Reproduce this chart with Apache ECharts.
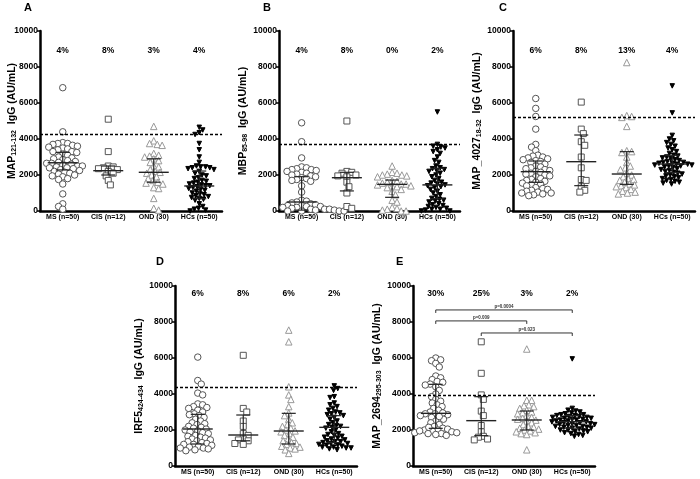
<!DOCTYPE html>
<html><head><meta charset="utf-8">
<script src="https://cdn.jsdelivr.net/npm/echarts@6/dist/echarts.min.js"></script>
<style>html,body{margin:0;padding:0;background:#fff}#c{width:700px;height:479px}</style>
</head><body><div id="c"></div>
<script>
const groups = ['MS (n=50)','CIS (n=12)','OND (30)','HCs (n=50)'];
const yTicks = [0,2000,4000,6000,8000,10000];

// Panel A  MAP121-132
const aMS = [6850,4400,3800,3750,3750,3700,3650,3600,3550,3500,3450,3400,3300,3300,3250,3150,3100,3000,2950,2900,2850,2800,2750,2700,2650,2650,2600,2550,2500,2500,2450,2400,2400,2350,2300,2250,2200,2150,2100,2050,2000,1950,1900,1800,1750,1500,950,400,250,100];
const aCIS = [5100,3300,2500,2450,2400,2350,2300,2200,2100,1950,1700,1450];
const aOND = [4700,3900,3750,3700,3650,3200,3100,3050,3000,2900,2800,2700,2500,2450,2300,2200,2150,2100,2000,1900,1800,1700,1600,1550,1500,1300,1250,700,150,50];
const aHC = [4650,4500,4350,4250,3750,3400,3000,2700,2500,2450,2450,2400,2400,2350,2300,2200,2100,2000,1950,1850,1800,1700,1650,1600,1550,1500,1450,1400,1400,1350,1300,1250,1200,1150,1100,1000,950,900,850,800,750,700,650,600,400,250,150,100,50,0];
const pctA = ['4%','8%','3%','4%'];
const medA = [2680,2240,2150,1390], q1A = [2280,2000,1600,680], q3A = [3260,2500,2900,2220];
const cutA = 4260;

// Panel B  MBP85-98
const bMS = [4900,3850,2950,2450,2400,2350,2300,2300,2250,2200,2150,2100,2050,2000,1950,1900,1850,1800,1750,1700,1650,1400,1050,600,550,500,450,400,350,300,300,250,250,200,200,150,150,100,100,100,50,50,50,0,0,0,0,0,0,0];
const bCIS = [5000,2200,2150,2100,2000,1950,1900,1600,1350,1000,250,150];
const bOND = [2500,2150,2100,2050,2000,2000,1950,1900,1700,1650,1600,1550,1500,1500,1450,1400,1400,1350,1300,1200,1100,900,600,500,200,150,100,50,0,0];
const bHC = [5500,3700,3600,3550,3500,3400,3300,3200,3000,2800,2700,2500,2400,2350,2300,2250,2200,2100,2000,1900,1800,1700,1600,1550,1500,1450,1400,1350,1300,1200,1100,1000,900,800,700,650,600,550,500,400,350,300,250,200,150,100,100,50,0,0];
const pctB = ['4%','8%','0%','2%'];
const medB = [500,1850,1480,1450], q1B = [50,1115,760,680], q3B = [1906,2150,1720,2370];
const cutB = 3720;

// Panel C  MAP_4027 18-32
const cMS = [6250,5700,5250,4550,3700,3550,3350,3100,3050,3000,2950,2900,2850,2800,2750,2700,2600,2500,2450,2400,2350,2300,2250,2200,2150,2100,2050,2000,1950,1900,1800,1750,1700,1650,1600,1550,1500,1450,1400,1300,1250,1200,1150,1100,1050,1000,950,900,850,1000];
const cCIS = [6050,4550,4300,3850,3650,3000,2400,1750,1700,1350,1150,1050];
const cOND = [8250,5300,5250,5200,4700,3350,3300,3250,3000,2700,2500,2400,2300,2100,2000,1900,1800,1750,1700,1600,1500,1450,1400,1350,1300,1200,1100,1050,1000,950];
const cHC = [6950,5450,4200,4000,3900,3800,3700,3600,3500,3400,3300,3200,3100,3050,3000,2950,2900,2850,2800,2750,2700,2700,2650,2650,2600,2600,2550,2550,2500,2500,2450,2400,2350,2300,2250,2200,2150,2100,2050,2000,1950,1900,1850,1800,1750,1700,1650,1600,1550,1500];
const pctC = ['6%','8%','13%','4%'];
const medC = [2185,2740,2055,2611], q1C = [1593,1407,1481,2130], q3C = [2778,4222,3296,3093];
const cutC = 5205;

// Panel D  IRF5 424-434
const dMS = [6050,4750,4550,4050,3950,3450,3400,3300,3250,3200,3100,3000,2900,2850,2800,2700,2600,2500,2400,2350,2300,2200,2150,2100,2050,2000,1950,1900,1850,1800,1700,1650,1600,1550,1500,1450,1400,1350,1300,1250,1200,1150,1100,1050,1000,950,900,850,1200,1000];
const dCIS = [6150,3200,3000,2500,2200,1800,1700,1500,1450,1400,1250,1200];
const dOND = [7550,6900,4400,3950,3700,3300,2950,2800,2600,2400,2300,2200,2100,2000,1950,1900,1800,1700,1600,1500,1400,1300,1250,1200,1100,1050,1000,950,900,700];
const dHC = [4450,4300,4200,3850,3800,3500,3400,3300,3200,3100,3000,2950,2900,2850,2800,2700,2600,2500,2400,2300,2250,2200,2150,2100,2000,1900,1800,1750,1700,1650,1600,1550,1500,1450,1400,1350,1300,1250,1200,1150,1100,1050,1000,950,900,1350,1250,1150,1050,1000];
const pctD = ['6%','8%','6%','2%'];
const medD = [2056,1722,1944,2148], q1D = [1222,1400,1222,1300], q3D = [2870,2833,2926,2796];
const cutD = 4372;

// Panel E  MAP_2694 295-303
const eMS = [6000,5900,5850,5700,5500,5000,4900,4800,4700,4650,4550,4500,4400,4200,4000,3850,3700,3600,3500,3400,3300,3200,3100,3000,2900,2900,2850,2800,2700,2600,2500,2400,2300,2200,2100,2050,2000,2000,1950,1900,1850,1800,1800,1750,1700,2950,2750,2150,1950,1850];
const eCIS = [6900,5150,3950,3700,3050,2800,2250,1900,1650,1600,1450,1500];
const eOND = [6500,3650,3650,3400,3350,3300,3200,3100,3000,2950,2900,2800,2700,2650,2600,2550,2500,2400,2300,2200,2150,2100,2050,2000,1950,1900,1850,1800,1750,900];
const eHC = [5950,3200,3100,3050,3000,2950,2900,2850,2850,2800,2800,2750,2750,2700,2700,2650,2650,2600,2600,2550,2550,2500,2500,2450,2450,2400,2400,2350,2350,2300,2300,2250,2250,2200,2200,2150,2150,2100,2100,2050,2000,1950,1900,1850,1800,1750,1700,1650,2000,1900];
const pctE = ['30%','25%','3%','2%'];
const medE = [2926,2519,2556,2463], q1E = [2093,1685,2000,2100], q3E = [4537,3852,3056,2800];
const cutE = 3906;
const bracketsE = [[0,3,8670,'p=0.0004'],[0,2,8060,'p=0.009'],[1,3,7390,'p=0.023']];

const FONT = '"Liberation Sans", Arial, sans-serif';
const PXY = 180/10000, PXC = 45.5;

function swarm(vals, diam){
  const order = vals.map((v,i)=>i).sort((a,b)=>vals[b]-vals[a]);
  const placed = [], offs = new Array(vals.length);
  for (const i of order){
    const y = vals[i]*PXY; let best = null;
    for (let k=0;k<80 && best===null;k++){
      const c = k===0?[0]:(k%2?[k*0.7,-k*0.7]:[-k*0.7,k*0.7]);
      for (const x of c){
        if (placed.every(p => (p.x-x)*(p.x-x)+(p.y-y)*(p.y-y) >= diam*diam)){best=x;break;}
      }
    }
    placed.push({x:best,y}); offs[i]=best/PXC;
  }
  return offs;
}

const panels = [
 {L:'A',lx:28,ly:8,grid:{left:40,top:31,width:182,height:180},name:'MAP{s|121-132}  IgG (AU/mL)',gap:22,vals:[aMS,aCIS,aOND,aHC],pct:pctA,med:medA,q1:q1A,q3:q3A,cut:cutA,pm:15},
 {L:'B',lx:267,ly:8,grid:{left:279,top:31,width:181,height:180},name:'MBP{s|85-98}  IgG (AU/mL)',gap:30,vals:[bMS,bCIS,bOND,bHC],pct:pctB,med:medB,q1:q1B,q3:q3B,cut:cutB,pm:15},
 {L:'C',lx:503,ly:8,grid:{left:513,top:31,width:182,height:180},name:'MAP_4027{s|18-32}  IgG (AU/mL)',gap:30,vals:[cMS,cCIS,cOND,cHC],pct:pctC,med:medC,q1:q1C,q3:q3C,cut:cutC,pm:15},
 {L:'D',lx:160,ly:262,grid:{left:175,top:286,width:182,height:180},name:'IRF5{s|424-434}  IgG (AU/mL)',gap:30,vals:[dMS,dCIS,dOND,dHC],pct:pctD,med:medD,q1:q1D,q3:q3D,cut:cutD,pm:3},
 {L:'E',lx:400,ly:262,grid:{left:413,top:286,width:182,height:180},name:'MAP_2694{s|295-303}  IgG (AU/mL)',gap:30,vals:[eMS,eCIS,eOND,eHC],pct:pctE,med:medE,q1:q1E,q3:q3E,cut:cutE,pm:3,brackets:bracketsE}
];

const symbols = [
 {symbol:'circle',size:6.5,color:'#fff',border:'#555',rot:0},
 {symbol:'rect',size:6,color:'#fff',border:'#555',rot:0},
 {symbol:'triangle',size:6.5,color:'#fff',border:'#999',rot:0},
 {symbol:'triangle',size:4.5,color:'#000',border:'#000',rot:180}
];

const grid=[], xAxis=[], yAxis=[], series=[], graphic=[];
panels.forEach((p,pi)=>{
  grid.push(p.grid);
  xAxis.push({gridIndex:pi,type:'category',data:groups,position:'bottom',boundaryGap:true,
    axisLine:{onZero:false,lineStyle:{color:'#000',width:2.5}},axisTick:{alignWithLabel:true,length:3,lineStyle:{width:1.5}},
    axisLabel:{interval:0,fontFamily:FONT,fontWeight:'bold',fontSize:7,color:'#000',margin:3},splitLine:{show:false}});
  xAxis.push({gridIndex:pi,type:'category',data:p.pct,position:'top',boundaryGap:true,
    axisLine:{show:false},axisTick:{show:false},
    axisLabel:{interval:0,inside:true,fontFamily:FONT,fontWeight:'bold',fontSize:8.5,color:'#000',margin:p.pm},splitLine:{show:false}});
  xAxis.push({gridIndex:pi,type:'value',min:-0.5,max:3.5,show:false,axisLine:{onZero:false}});
  yAxis.push({gridIndex:pi,type:'value',min:0,max:10000,interval:2000,position:'left',
    name:p.name,nameLocation:'middle',nameRotate:90,nameGap:p.gap,nameMoveOverlap:false,
    nameTextStyle:{fontFamily:FONT,fontWeight:'bold',fontSize:10.5,color:'#000',
      rich:{s:{fontFamily:FONT,fontWeight:'bold',fontSize:7,color:'#000',verticalAlign:'bottom',padding:[5,0,0,0]}}},
    axisLine:{show:true,onZero:false,lineStyle:{color:'#000',width:2.5}},axisTick:{show:true,length:3,lineStyle:{width:1.5}},
    axisLabel:{formatter:v=>String(v),fontFamily:FONT,fontWeight:'bold',fontSize:8.5,color:'#000',margin:2},splitLine:{show:false}});
  p.vals.forEach((vals,gi)=>{
    const offs = swarm(vals, gi===3?4.2:4.8);
    const s = symbols[gi];
    const ser = {type:'scatter',xAxisIndex:pi*3+2,yAxisIndex:pi,symbol:s.symbol,symbolSize:s.size,symbolRotate:s.rot,
      itemStyle:{color:s.color,borderColor:s.border,borderWidth:1,opacity:1},
      data:vals.map((v,i)=>[gi+offs[i],v]),z:2,silent:true};
    if (gi===0){
      ser.markLine={silent:true,symbol:'none',label:{show:false},lineStyle:{color:'#000',type:[3,2],width:1.4},data:[{yAxis:p.cut}],animation:false};
    }
    series.push(ser);
  });
  series.push({type:'custom',xAxisIndex:pi*3+2,yAxisIndex:pi,z:5,silent:true,
    data:p.med.map((m,gi)=>[gi,m,p.q1[gi],p.q3[gi]]),encode:{x:0,y:1},
    renderItem:(params,api)=>{
      const gi=api.value(0);
      const c=api.coord([gi,api.value(1)]), a=api.coord([gi,api.value(2)]), b=api.coord([gi,api.value(3)]);
      const st={stroke:'#222',lineWidth:1.2};
      return {type:'group',children:[
        {type:'line',shape:{x1:c[0]-15,y1:c[1],x2:c[0]+15,y2:c[1]},style:{stroke:'#222',lineWidth:1.4}},
        {type:'line',shape:{x1:a[0],y1:a[1],x2:b[0],y2:b[1]},style:st},
        {type:'line',shape:{x1:a[0]-7,y1:a[1],x2:a[0]+7,y2:a[1]},style:st},
        {type:'line',shape:{x1:b[0]-7,y1:b[1],x2:b[0]+7,y2:b[1]},style:st}
      ]};
    }});
  if (p.brackets){
    series.push({type:'custom',xAxisIndex:pi*3+2,yAxisIndex:pi,z:5,silent:true,
      data:p.brackets,encode:{x:[0,1],y:2},
      renderItem:(params,api)=>{
        const l=api.coord([api.value(0),api.value(2)]), r=api.coord([api.value(1),api.value(2)]);
        const txt=p.brackets[params.dataIndex][3];
        const st={stroke:'#333',lineWidth:1};
        return {type:'group',children:[
          {type:'line',shape:{x1:l[0],y1:l[1],x2:r[0],y2:r[1]},style:st},
          {type:'line',shape:{x1:l[0],y1:l[1],x2:l[0],y2:l[1]+3},style:st},
          {type:'line',shape:{x1:r[0],y1:r[1],x2:r[0],y2:r[1]+3},style:st},
          {type:'text',style:{text:txt,x:(l[0]+r[0])/2,y:l[1]-1,textAlign:'center',textVerticalAlign:'bottom',
            font:'bold 4.5px '+FONT,fill:'#333'}}
        ]};
      }});
  }
  graphic.push({type:'text',left:p.lx-4,top:p.ly-6,style:{text:p.L,font:'bold 11px '+FONT,fill:'#000'}});
});

const chart = echarts.init(document.getElementById('c'),null,{renderer:'canvas'});
chart.setOption({animation:false,backgroundColor:'#fff',grid,xAxis,yAxis,series,graphic});
</script></body></html>
